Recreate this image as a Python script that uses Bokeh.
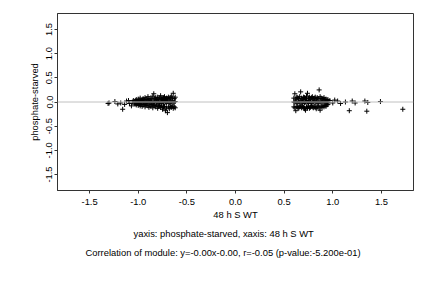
import math
from bokeh.plotting import figure
from bokeh.models import Range1d, FixedTicker, Span, Title, ColumnDataSource, PrintfTickFormatter
from bokeh.embed import file_html
from bokeh.resources import INLINE

# --- data ---
left_sparse_x = [-1.31, -1.30, -1.24, -1.21, -1.18, -1.16, -1.14, -1.12, -1.10, -1.09, -1.07, -1.06, -1.05, -1.04]
left_sparse_y = [-0.03, -0.02, 0.01, -0.04, -0.02, -0.15, -0.05, 0.02, 0.03, -0.03, -0.08, 0.00, 0.03, -0.04]

left_x = [-1.03, -1.02, -1.01, -1.00, -0.99, -0.98, -0.97, -0.96, -0.95, -0.94, -0.93, -0.92, -0.91, -0.90,
          -0.89, -0.88, -0.87, -0.86, -0.85, -0.84, -0.83, -0.82, -0.81, -0.80, -0.79, -0.78, -0.77, -0.76,
          -0.75, -0.74, -0.73, -0.72, -0.71, -0.70, -0.69, -0.68, -0.67, -0.66, -0.65, -0.64, -0.63, -0.62]
left_upper = [0.03, 0.05, 0.02, 0.06, 0.04, 0.08, 0.03, 0.05, 0.07, 0.04, 0.09, 0.06, 0.05, 0.11,
              0.07, 0.04, 0.08, 0.06, 0.12, 0.17, 0.07, 0.09, 0.05, 0.10, 0.06, 0.08, 0.13, 0.07,
              0.05, 0.09, 0.11, 0.06, 0.08, 0.07, 0.10, 0.06, 0.09, 0.12, 0.08, 0.18, 0.07, 0.10]
left_middle = [0.00, -0.01, 0.01, 0.00, -0.02, 0.01, 0.00, 0.02, -0.01, 0.00, 0.01, -0.02, 0.00, 0.02,
               0.00, -0.01, 0.01, 0.00, -0.02, 0.01, 0.00, 0.02, -0.01, 0.00, 0.01, -0.02, 0.00, 0.01,
               0.00, -0.01, 0.02, 0.00, -0.01, 0.01, 0.00, -0.02, 0.01, 0.00, 0.02, -0.01, 0.00, 0.01]
left_lower = [-0.04, -0.06, -0.03, -0.07, -0.05, -0.08, -0.04, -0.09, -0.06, -0.05, -0.10, -0.07, -0.04, -0.08,
              -0.11, -0.06, -0.09, -0.05, -0.12, -0.07, -0.08, -0.10, -0.06, -0.13, -0.09, -0.07, -0.11, -0.08,
              -0.15, -0.10, -0.09, -0.18, -0.12, -0.22, -0.10, -0.14, -0.09, -0.11, -0.08, -0.13, -0.10, -0.12]

right_x = [0.60, 0.61, 0.62, 0.63, 0.64, 0.65, 0.66, 0.67, 0.68, 0.69, 0.70, 0.71, 0.72, 0.73, 0.74, 0.75,
           0.76, 0.77, 0.78, 0.79, 0.80, 0.81, 0.82, 0.83, 0.84, 0.85, 0.86, 0.87, 0.88, 0.89, 0.90, 0.91,
           0.92, 0.93, 0.94, 0.95]
right_upper = [0.08, 0.17, 0.06, 0.10, 0.09, 0.07, 0.11, 0.21, 0.08, 0.06, 0.10, 0.09, 0.07, 0.12, 0.18, 0.08,
               0.10, 0.06, 0.09, 0.11, 0.07, 0.08, 0.10, 0.06, 0.09, 0.07, 0.25, 0.11, 0.08, 0.06, 0.07, 0.09,
               0.05, 0.06, 0.04, 0.05]
right_middle = [0.00, -0.01, 0.01, 0.00, -0.02, 0.01, 0.00, 0.02, -0.01, 0.00, 0.01, -0.02, 0.00, 0.02, 0.00, -0.01,
                0.01, 0.00, -0.02, 0.01, 0.00, 0.02, -0.01, 0.00, 0.01, -0.02, 0.00, 0.01, 0.00, -0.01, 0.02, 0.00,
                -0.01, 0.01, 0.00, -0.02]
right_lower = [-0.10, -0.12, -0.18, -0.09, -0.11, -0.13, -0.10, -0.08, -0.12, -0.09, -0.11, -0.14, -0.17, -0.10, -0.12, -0.09,
               -0.13, -0.11, -0.08, -0.10, -0.12, -0.09, -0.11, -0.14, -0.10, -0.08, -0.12, -0.17, -0.09, -0.11, -0.08, -0.10,
               -0.07, -0.09, -0.06, -0.05]
right_sparse_x = [0.97, 1.00, 1.02, 1.05, 1.08, 1.13, 1.17, 1.20, 1.23, 1.33, 1.35, 1.36, 1.49, 1.72]
right_sparse_y = [0.03, -0.02, 0.04, 0.02, -0.03, 0.00, -0.18, 0.02, -0.02, 0.02, -0.19, -0.01, 0.01, -0.15]

x_ticks = [-1.5, -1.0, -0.5, 0.0, 0.5, 1.0, 1.5]
y_ticks = [-1.5, -1.0, -0.5, 0.0, 0.5, 1.0, 1.5]
x_label = "48 h S WT"
y_label = "phosphate-starved"
caption1 = "yaxis: phosphate-starved, xaxis: 48 h S WT"
caption2 = "Correlation of module: y=-0.00x-0.00, r=-0.05 (p-value:-5.200e-01)"

xs = left_sparse_x + left_x * 3 + right_x * 3 + right_sparse_x
ys = left_sparse_y + left_upper + left_middle + left_lower + right_upper + right_middle + right_lower + right_sparse_y
src = ColumnDataSource(dict(x=xs, y=ys))

FONT = "Liberation Sans"
FS = "9.4px"

p = figure(width=432, height=288, output_backend="svg", toolbar_location=None,
           x_range=Range1d(-1.83, 1.83), y_range=Range1d(-1.83, 1.83),
           min_border_left=57, min_border_right=19, min_border_top=13, min_border_bottom=98)
p.background_fill_color = "white"
p.border_fill_color = "white"
p.outline_line_color = "#333333"
p.outline_line_width = 1
p.xgrid.visible = False
p.ygrid.visible = False

for ax in (p.xaxis[0], p.yaxis[0]):
    ax.major_label_text_font = FONT
    ax.major_label_text_font_size = FS
    ax.axis_label_text_font = FONT
    ax.axis_label_text_font_size = FS
    ax.axis_label_text_font_style = "normal"
    ax.axis_label_text_color = "black"
    ax.minor_tick_line_color = None
    ax.major_tick_out = 3
    ax.major_tick_in = 0
    ax.axis_line_color = "#333333"
    ax.major_tick_line_color = "#333333"
    ax.major_label_text_color = "black"
    ax.formatter = PrintfTickFormatter(format="%.1f")

p.xaxis.ticker = FixedTicker(ticks=x_ticks)
p.yaxis.ticker = FixedTicker(ticks=y_ticks)
p.xaxis.axis_label = x_label
p.yaxis.axis_label = y_label
p.xaxis.major_label_standoff = 5
p.xaxis.axis_label_standoff = 1
p.yaxis.major_label_orientation = "vertical"
p.yaxis.major_label_standoff = 2
p.yaxis.axis_label_standoff = 4

p.add_layout(Span(location=0, dimension="width", line_color="#c0c0c0", line_width=1))

p.scatter("x", "y", source=src, marker="cross", size=5, line_color="black", line_width=1)

t1 = Title(text=caption1, align="left", offset=76, text_font=FONT, text_font_size=FS,
           text_font_style="normal", text_color="black", standoff=6)
t2 = Title(text=caption2, align="left", offset=28, text_font=FONT, text_font_size=FS,
           text_font_style="normal", text_color="black", standoff=6)
p.add_layout(t1, "below")
p.add_layout(t2, "below")

open("out.html", "w").write(file_html(p, INLINE))
